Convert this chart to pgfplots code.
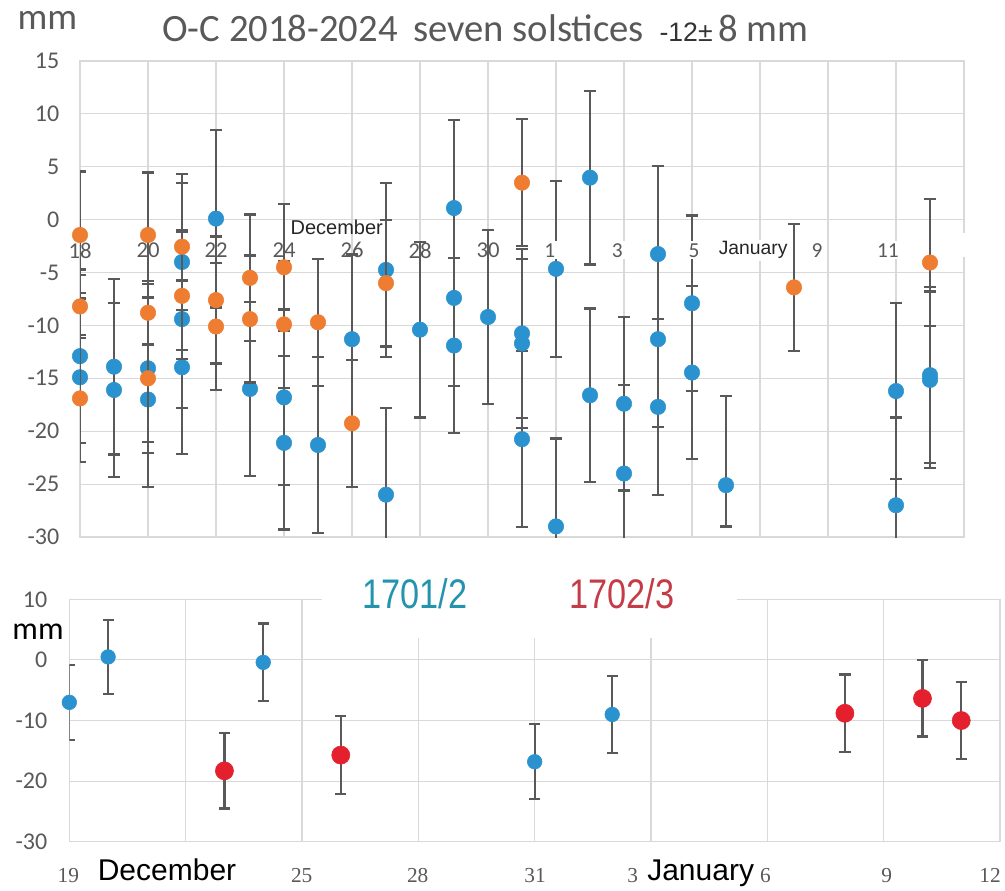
\documentclass[border=0pt]{standalone}
\usepackage{pgfplots}
\usepackage{pgfplotstable}
\pgfplotsset{compat=1.18}
\usepackage{fontspec}
\setmainfont{Carlito}
\newfontfamily\arial{Liberation Sans}
\newfontfamily\cambria{Liberation Serif}
\definecolor{cblue}{HTML}{2A92CF}
\definecolor{corange}{HTML}{EE7D31}
\definecolor{cred}{HTML}{E5202E}
\definecolor{errgray}{HTML}{595959}
\definecolor{gridgray}{HTML}{D9D9D9}
\definecolor{lab}{HTML}{595959}
\definecolor{teallab}{HTML}{2494AE}
\definecolor{redlab}{HTML}{C43C48}

\pgfplotstableread{
x y e
18 -12.9 8.2
18 -14.9 8.0
19 -13.9 8.3
19 -16.1 8.2
20 -14.05 8.0
20 -17.0 8.3
21 -4.0 8.3
21 -9.4 8.4
21 -13.95 8.2
22 0.1 8.4
23 -16.0 8.2
24 -16.8 8.3
24 -21.1 8.2
25 -21.3 8.3
26 -11.3 8.0
27 -4.75 8.2
27 -26.0 8.2
28 -10.4 8.3
29 1.1 8.3
29 -7.4 8.3
29 -11.9 8.3
30 -9.2 8.2
31 -10.75 8.0
31 -11.7 8.0
31 -20.75 8.3
32 -4.65 8.3
32 -29.0 8.3
33 3.97 8.2
33 -16.6 8.2
34 -17.4 8.2
34 -24.0 8.4
35 -3.25 8.3
35 -11.3 8.3
35 -17.7 8.3
36 -7.9 8.3
36 -14.45 8.2
42 -16.2 8.35
42 -27.0 8.3
43 -14.7 8.3
43 -15.15 8.35
}\topblue

\pgfplotstableread{
x y e
18 -1.45 6.0
18 -8.2 3.0
18 -16.9 6.0
20 -1.45 5.9
20 -8.8 3.0
20 -15.0 6.0
21 -2.55 6.0
21 -7.2 6.0
22 -7.6 6.0
22 -10.1 6.0
23 -5.5 6.0
23 -9.4 6.0
24 -4.5 6.0
24 -9.9 6.0
25 -9.7 6.0
26 -19.25 6.0
27 -6.0 6.0
31 3.5 6.0
39 -6.4 6.0
43 -4.05 6.0
}\toporange

\pgfplotstableread{
x y e
19 -7.0 6.2
20 0.5 6.1
24 -0.4 6.4
31 -16.8 6.2
33 -9.0 6.3
}\botblue

\pgfplotstableread{
x y e
23 -18.3 6.2
26 -15.7 6.4
39 -8.8 6.4
41 -6.35 6.3
42 -10.0 6.3
}\botred

\pgfplotsset{
  errstyle/.style={
    error bars/.cd, y dir=both, y explicit,
    error bar style={draw=errgray, line width=1.7pt},
    error mark options={rotate=90, draw=errgray, line width=1.7pt, mark size=4.2pt}
  }
}

\begin{document}
\begin{tikzpicture}
\path[use as bounding box] (0,0) rectangle (753.75pt,667.5pt);

\node[anchor=center, text=lab, font=\fontsize{28}{30}\selectfont] at (35.5pt,652pt) {mm};
\node[anchor=base west, text=lab, font=\fontsize{29}{32}\selectfont, inner sep=0pt] at (121.5pt,636pt)
  {O-C 2018-2024\hspace{0.4em}seven solstices\hspace{0.4em}{\arial\fontsize{20}{22}\selectfont\color{black!80}-12±}\hspace{0.15em}8 mm};

\begin{axis}[
  at={(60pt,264.75pt)}, anchor=south west, scale only axis,
  width=663pt, height=357pt,
  xmin=18, xmax=44, ymin=-30, ymax=15,
  xtick={18,20,...,44}, ytick={-30,-25,...,15},
  xticklabels={},
  grid=major, major grid style={gridgray, line width=0.8pt},
  axis line style={gridgray, line width=0.8pt},
  major tick length=0pt,
  yticklabel style={font=\fontsize{18}{20}\selectfont, text=lab, xshift=-12pt},
  /pgf/number format/assume math mode=true,
  clip mode=individual,
]
\addplot[only marks, mark=*, mark size=5.8pt, color=cblue, mark options={draw=cblue, fill=cblue}, errstyle]
  table[x=x, y=y, y error=e] {\topblue};
\addplot[only marks, mark=*, mark size=5.8pt, color=cblue, mark options={draw=cblue, fill=cblue}, errstyle]
  coordinates {(37,-25.1) += (0,8.4) -= (0,3.9)};
\addplot[only marks, mark=*, mark size=5.8pt, color=corange, mark options={draw=corange, fill=corange}, errstyle]
  table[x=x, y=y, y error=e] {\toporange};

\node[font=\fontsize{17}{19}\selectfont, text=lab] at (axis cs:18,-2.9) {18};
\node[font=\fontsize{17}{19}\selectfont, text=lab] at (axis cs:20,-2.9) {20};
\node[font=\fontsize{17}{19}\selectfont, text=lab] at (axis cs:22,-2.9) {22};
\node[font=\fontsize{17}{19}\selectfont, text=lab] at (axis cs:24,-2.9) {24};
\node[font=\fontsize{17}{19}\selectfont, text=lab] at (axis cs:26,-2.9) {26};
\node[font=\fontsize{17}{19}\selectfont, text=lab] at (axis cs:28,-2.9) {28};
\node[font=\fontsize{17}{19}\selectfont, text=lab] at (axis cs:30,-2.9) {30};
\node[font=\fontsize{16}{18}\selectfont, text=lab, fill=white, inner sep=1.5pt] at (axis cs:31.82,-2.9) {1};
\node[font=\fontsize{16}{18}\selectfont, text=lab, fill=white, inner sep=1.5pt] at (axis cs:33.8,-2.9) {3};
\node[font=\fontsize{16}{18}\selectfont, text=lab, fill=white, inner sep=1.5pt] at (axis cs:36.06,-2.9) {5};
\node[font=\arial\fontsize{14.5}{16}\selectfont, text=black!85, fill=white, inner sep=1.5pt] at (axis cs:37.8,-2.9) {January};
\node[font=\fontsize{16}{18}\selectfont, text=lab, fill=white, inner sep=1.5pt] at (axis cs:39.68,-2.9) {9};
\node[font=\fontsize{16}{18}\selectfont, text=lab, fill=white, inner sep=1.5pt] at (axis cs:41.76,-2.9) {11};
\node[font=\arial\fontsize{15}{17}\selectfont, text=black!85, inner sep=1pt] at (axis cs:25.55,-0.7) {December};
\end{axis}

\fill[white] (718.5pt,474.75pt) rectangle (729pt,492.75pt);

\begin{axis}[
  at={(52pt,36.2pt)}, anchor=south west, scale only axis,
  width=698pt, height=181.8pt,
  xmin=19, xmax=43, ymin=-30, ymax=10,
  xtick={19,22,...,43}, ytick={-30,-20,...,10},
  xticklabels={},
  grid=major, major grid style={gridgray, line width=0.8pt},
  axis line style={gridgray, line width=0.8pt},
  major tick length=0pt,
  yticklabel style={font=\fontsize{18}{20}\selectfont, text=lab, xshift=-13pt},
  /pgf/number format/assume math mode=true,
  clip mode=individual,
]
\addplot[only marks, mark=*, mark size=5.5pt, color=cblue, mark options={draw=cblue, fill=cblue}, errstyle]
  table[x=x, y=y, y error=e] {\botblue};
\addplot[only marks, mark=*, mark size=6.8pt, color=cred, mark options={draw=cred, fill=cred}, errstyle]
  table[x=x, y=y, y error=e] {\botred};
\end{axis}

\fill[white] (241.5pt,189pt) rectangle (552.75pt,251pt);
\node[xscale=0.83, text=teallab, font=\arial\fontsize{31}{34}\selectfont] at (311.25pt,222pt) {1701/2};
\node[xscale=0.83, text=redlab, font=\arial\fontsize{31}{34}\selectfont] at (466.3pt,222pt) {1702/3};
\node[text=black, font=\fontsize{24}{26}\selectfont] at (28.5pt,193.9pt) {mm};

\node[anchor=base, text=lab, font=\cambria\fontsize{16}{18}\selectfont] at (51.2pt,6pt) {19};
\node[anchor=base, text=lab, font=\cambria\fontsize{16}{18}\selectfont] at (226.3pt,6pt) {25};
\node[anchor=base, text=lab, font=\cambria\fontsize{16}{18}\selectfont] at (313.3pt,6pt) {28};
\node[anchor=base, text=lab, font=\cambria\fontsize{16}{18}\selectfont] at (401.25pt,6pt) {31};
\node[anchor=base, text=lab, font=\cambria\fontsize{16}{18}\selectfont] at (474.5pt,6pt) {3};
\node[anchor=base, text=lab, font=\cambria\fontsize{16}{18}\selectfont] at (574pt,6pt) {6};
\node[anchor=base, text=lab, font=\cambria\fontsize{16}{18}\selectfont] at (665pt,6pt) {9};
\node[anchor=base, text=lab, font=\cambria\fontsize{16}{18}\selectfont] at (742.5pt,6pt) {12};
\node[anchor=base, text=black, font=\arial\fontsize{22.5}{24}\selectfont] at (125.25pt,7pt) {December};
\node[anchor=base, text=black, font=\arial\fontsize{22.5}{24}\selectfont] at (525.5pt,7pt) {January};
\end{tikzpicture}
\end{document}
